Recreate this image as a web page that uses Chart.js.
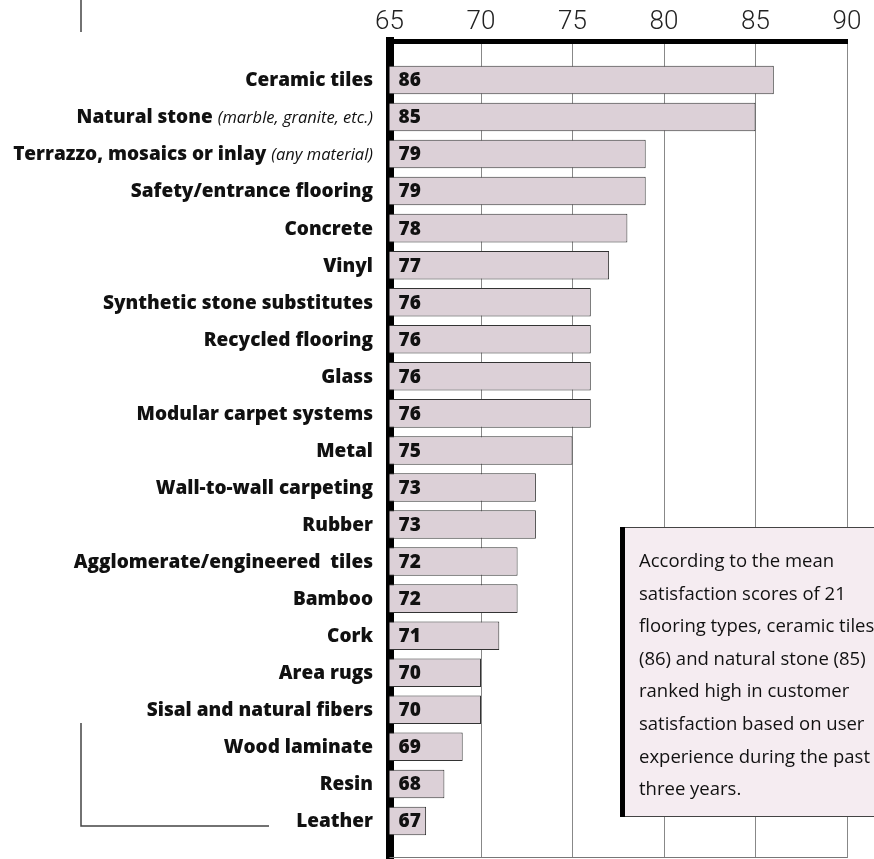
<!DOCTYPE html>
<html>
<head>
<meta charset="utf-8">
<script src="https://cdn.jsdelivr.net/npm/chart.js@4"></script>
<style>
  html, body { margin: 0; padding: 0; background: #fff; }
  #wrap { width: 874px; height: 859px; position: relative; overflow: hidden; }
</style>
</head>
<body>
<div id="wrap"><canvas id="c" width="874" height="859"></canvas></div>
<script>
const categories = [
  "Ceramic tiles", "Natural stone", "Terrazzo, mosaics or inlay", "Safety/entrance flooring",
  "Concrete", "Vinyl", "Synthetic stone substitutes", "Recycled flooring", "Glass",
  "Modular carpet systems", "Metal", "Wall-to-wall carpeting", "Rubber",
  "Agglomerate/engineered  tiles", "Bamboo", "Cork", "Area rugs", "Sisal and natural fibers",
  "Wood laminate", "Resin", "Leather"
];
const categoryNotes = [
  "", "(marble, granite, etc.)", "(any material)", "", "", "", "", "", "", "", "",
  "", "", "", "", "", "", "", "", "", ""
];
const scores = [86, 85, 79, 79, 78, 77, 76, 76, 76, 76, 75, 73, 73, 72, 72, 71, 70, 70, 69, 68, 67];
const xMin = 65, xMax = 90, xStep = 5;
const noteLines = [
  "According to the mean",
  "satisfaction scores of 21",
  "flooring types, ceramic tiles",
  "(86) and natural stone (85)",
  "ranked high in customer",
  "satisfaction based on user",
  "experience during the past",
  "three years."
];

const points = scores.map((v, i) => ({ x: v, y: i + 1 }));

const decorPlugin = {
  id: 'decor',
  beforeDraw(chart) {
    const ctx = chart.ctx;
    ctx.save();
    ctx.fillStyle = '#fff';
    ctx.fillRect(0, 0, chart.width, chart.height);
    ctx.restore();
  },
  afterDatasetsDraw(chart) {
    const ctx = chart.ctx;
    const xs = chart.scales.x, ys = chart.scales.y;
    const area = chart.chartArea;
    ctx.save();
    // bottom frame line
    ctx.strokeStyle = '#777';
    ctx.lineWidth = 1;
    ctx.beginPath();
    ctx.moveTo(area.left, area.bottom - 0.5);
    ctx.lineTo(area.right, area.bottom - 0.5);
    ctx.stroke();
    // value labels inside bars
    ctx.fillStyle = '#111';
    ctx.font = '800 19px "Open Sans", Lato, sans-serif';
    ctx.textAlign = 'left';
    ctx.textBaseline = 'middle';
    scores.forEach((v, i) => {
      ctx.fillText(String(v), xs.getPixelForValue(xMin) + 9, ys.getPixelForValue(i + 1) + 1);
    });
    // category labels (bold name + italic note)
    categories.forEach((name, i) => {
      const y = ys.getPixelForValue(i + 1) + 1;
      let right = 373;
      const note = categoryNotes[i];
      if (note) {
        ctx.font = 'italic 16.5px "Open Sans", Lato, sans-serif';
        const w = ctx.measureText(note).width;
        ctx.textAlign = 'right';
        ctx.fillText(note, right, y);
        right -= w + 5;
      }
      ctx.font = '800 19px "Open Sans", Lato, sans-serif';
      ctx.textAlign = 'right';
      ctx.fillText(name, right, y);
    });
    // annotation box
    const bx = 620, by = 527, bw = 300, bh = 289;
    ctx.fillStyle = '#f5ecf1';
    ctx.fillRect(bx, by, bw, bh);
    ctx.strokeStyle = '#444';
    ctx.lineWidth = 1;
    ctx.strokeRect(bx + 0.5, by + 0.5, bw, bh);
    ctx.fillStyle = '#000';
    ctx.fillRect(bx, by, 5, bh + 1);
    ctx.fillStyle = '#111';
    ctx.font = '18.5px "Open Sans", Lato, sans-serif';
    ctx.textAlign = 'left';
    ctx.textBaseline = 'alphabetic';
    noteLines.forEach((t, i) => ctx.fillText(t, 639, 567 + i * 32.6));
    // decorative corner lines
    ctx.strokeStyle = '#444';
    ctx.lineWidth = 1.5;
    ctx.beginPath();
    ctx.moveTo(81, 0);
    ctx.lineTo(81, 32);
    ctx.moveTo(81, 723);
    ctx.lineTo(81, 826);
    ctx.lineTo(269, 826);
    ctx.stroke();
    ctx.restore();
  }
};

new Chart(document.getElementById('c'), {
  type: 'bar',
  data: {
    datasets: [{
      data: points,
      backgroundColor: '#dcd0d7',
      borderColor: '#333',
      borderWidth: 1,
      borderSkipped: 'start',
      barPercentage: 0.77,
      categoryPercentage: 1
    }]
  },
  options: {
    indexAxis: 'y',
    responsive: false,
    animation: false,
    devicePixelRatio: 1,
    layout: { padding: { left: 389.5, right: 27, top: 0, bottom: 1 } },
    plugins: { legend: { display: false }, tooltip: { enabled: false } },
    scales: {
      x: {
        type: 'linear',
        position: 'top',
        min: xMin,
        max: xMax,
        afterFit: (s) => { s.height = 41; },
        ticks: {
          stepSize: xStep,
          padding: 3,
          color: '#222',
          font: { family: 'Roboto, Lato, sans-serif', size: 26, weight: '300' }
        },
        grid: { color: '#888', lineWidth: 1, drawTicks: false },
        border: { display: true, color: '#000', width: 5 }
      },
      y: {
        type: 'linear',
        min: -0.05,
        max: 22,
        reverse: true,
        offset: false,
        z: 1,
        afterFit: (s) => { s.width = 0; },
        ticks: { display: false, stepSize: 1 },
        grid: { display: false, offset: false },
        border: { display: true, color: '#000', width: 8 }
      }
    }
  },
  plugins: [decorPlugin]
});
</script>
</body>
</html>
